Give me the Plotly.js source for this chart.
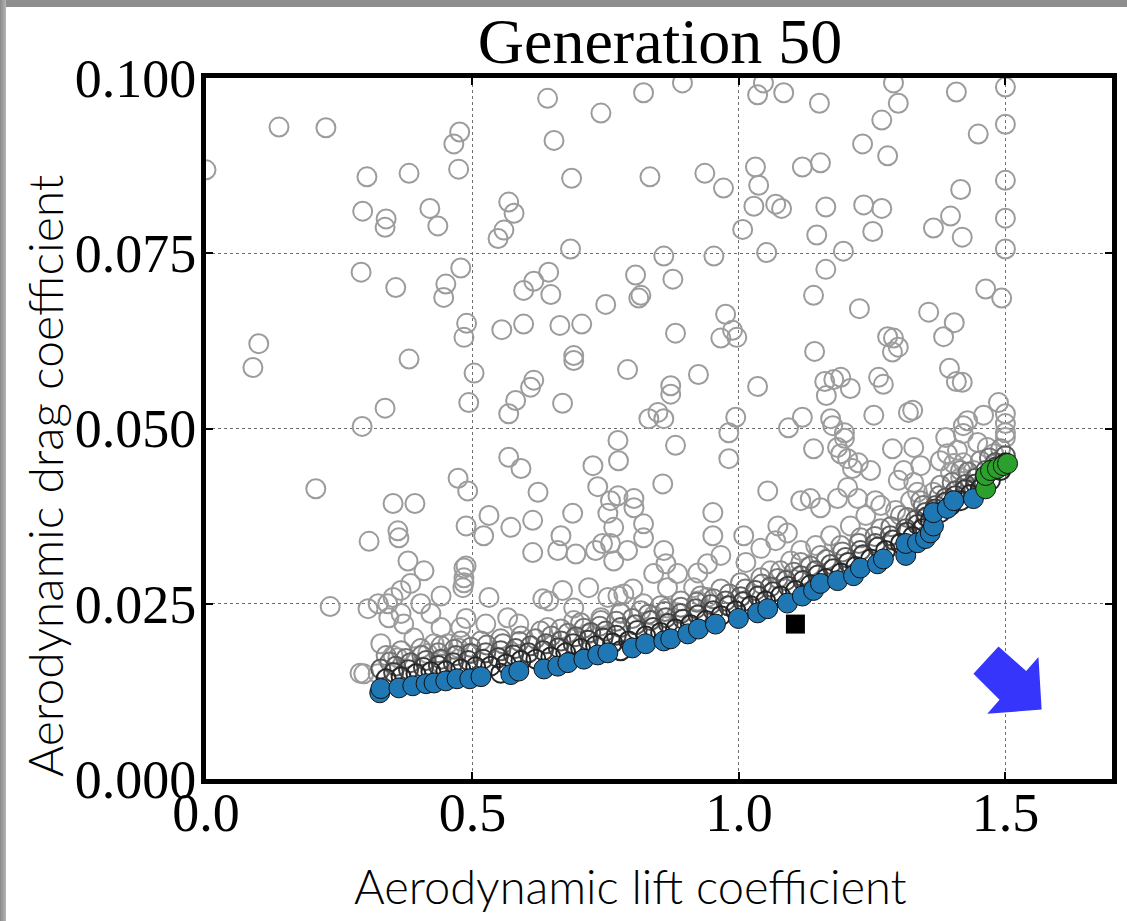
<!DOCTYPE html>
<html>
<head>
<meta charset="utf-8">
<script src="https://cdn.plot.ly/plotly-3.0.1.min.js"></script>
<style>
  html, body { margin: 0; padding: 0; background: #ffffff; }
  #wrap { position: relative; width: 1127px; height: 921px; overflow: hidden; }
  #plot { position: absolute; left: 0; top: 0; width: 1127px; height: 921px; }
  #topbar { position: absolute; left: 0; top: 0; width: 1127px; height: 7px; background: #8e8e8e; z-index: 5; }
  #leftbar { position: absolute; left: 0; top: 0; width: 6px; height: 921px; background: linear-gradient(to right, #8a8a8a, #b5b5b5); z-index: 5; }
</style>
</head>
<body>
<div id="wrap">
  <div id="plot"></div>
  <div id="topbar"></div>
  <div id="leftbar"></div>
</div>
<script>
// ---------- DATA: [lift coefficient, drag coefficient] ----------
const chartTitle = 'Generation 50';
const xTitle = 'Aerodynamic lift coefficient';
const yTitle = 'Aerodynamic drag coefficient';
const xTicks = [0, 0.5, 1.0, 1.5];
const yTicks = [0, 0.025, 0.05, 0.075, 0.1];

// earlier / dominated individuals (light grey open circles)
const populationPoints = [
  [0.0,0.0869],[0.137,0.0930],[0.225,0.0929],[0.302,0.0859],[0.381,0.0864],[0.476,0.0923],[0.465,0.0906],[0.474,0.0870],
  [0.294,0.0810],[0.338,0.0799],[0.336,0.0787],[0.420,0.0814],[0.435,0.0789],[0.641,0.0971],[0.653,0.0911],[0.741,0.0950],
  [0.686,0.0857],[0.568,0.0823],[0.578,0.0807],[0.559,0.0783],[0.548,0.0771],[0.684,0.0756],[0.291,0.0723],[0.356,0.0701],
  [0.450,0.0706],[0.446,0.0687],[0.478,0.0729],[0.643,0.0723],[0.615,0.0710],[0.596,0.0697],[0.647,0.0691],[0.750,0.0677],
  [0.489,0.0650],[0.484,0.0630],[0.555,0.0641],[0.596,0.0649],[0.664,0.0647],[0.705,0.0649],[0.690,0.0604],[0.099,0.0621],
  [0.088,0.0587],[0.381,0.0599],[0.503,0.0579],[0.821,0.0979],[0.894,0.0993],[1.046,0.0993],[1.035,0.0976],[1.084,0.0979],
  [1.151,0.0964],[1.290,0.0993],[1.299,0.0964],[1.268,0.0940],[1.232,0.0906],[1.279,0.0889],[1.408,0.0980],[1.449,0.0920],
  [1.500,0.0987],[1.500,0.0934],[1.500,0.0854],[1.500,0.0800],[1.500,0.0756],[1.416,0.0841],[1.397,0.0803],[1.365,0.0786],
  [1.419,0.0773],[0.833,0.0859],[0.936,0.0864],[0.971,0.0843],[1.031,0.0873],[1.037,0.0847],[1.028,0.0817],[1.069,0.0820],
  [1.080,0.0814],[1.007,0.0784],[1.052,0.0751],[1.119,0.0873],[1.153,0.0879],[1.163,0.0816],[1.234,0.0819],[1.268,0.0814],
  [1.251,0.0781],[1.146,0.0776],[1.196,0.0753],[1.163,0.0727],[1.140,0.0690],[1.226,0.0671],[1.356,0.0666],[1.404,0.0651],
  [1.384,0.0631],[1.463,0.0699],[1.493,0.0686],[0.859,0.0746],[0.953,0.0746],[0.806,0.0719],[0.876,0.0713],[0.816,0.0690],
  [0.812,0.0686],[0.975,0.0663],[0.988,0.0640],[0.966,0.0629],[0.996,0.0630],[0.881,0.0636],[0.791,0.0584],[0.872,0.0561],
  [0.872,0.0549],[0.924,0.0577],[1.035,0.0560],[1.142,0.0610],[1.161,0.0567],[1.178,0.0570],[1.191,0.0573],[1.209,0.0557],
  [1.164,0.0547],[1.279,0.0631],[1.290,0.0629],[1.299,0.0616],[1.288,0.0609],[1.262,0.0573],[1.271,0.0563],[1.395,0.0586],
  [1.408,0.0567],[1.419,0.0566],[1.487,0.0537],
  [0.336,0.0529],[0.293,0.0503],[0.206,0.0414],[0.351,0.0393],[0.392,0.0393],[0.360,0.0354],[0.362,0.0344],[0.306,0.0339],
  [0.473,0.0429],[0.491,0.0411],[0.488,0.0361],[0.379,0.0311],[0.409,0.0297],[0.384,0.0279],[0.366,0.0269],[0.351,0.0259],
  [0.233,0.0246],[0.304,0.0243],[0.323,0.0250],[0.341,0.0250],[0.343,0.0230],[0.366,0.0236],[0.371,0.0221],[0.390,0.0201],
  [0.403,0.0250],[0.422,0.0236],[0.441,0.0261],[0.482,0.0273],[0.484,0.0287],[0.484,0.0301],[0.328,0.0193],[0.351,0.0176],
  [0.360,0.0173],[0.289,0.0151],[0.296,0.0150],[0.441,0.0216],[0.478,0.0216],[0.428,0.0193],[0.416,0.0179],[0.454,0.0193],
  [0.473,0.0187],[0.491,0.0179],[0.441,0.0164],[0.323,0.0150],
  [0.493,0.0537],[0.568,0.0521],[0.581,0.0540],[0.609,0.0559],[0.615,0.0569],[0.669,0.0536],[0.690,0.0597],[0.831,0.0514],
  [0.848,0.0523],[0.859,0.0514],[0.773,0.0483],[0.881,0.0476],[0.568,0.0459],[0.591,0.0443],[0.726,0.0447],[0.774,0.0454],
  [0.623,0.0409],[0.735,0.0417],[0.857,0.0421],[0.773,0.0404],[0.759,0.0397],[0.803,0.0400],[0.803,0.0387],[0.754,0.0379],
  [0.821,0.0364],[0.688,0.0379],[0.613,0.0369],[0.572,0.0359],[0.531,0.0376],[0.521,0.0347],[0.666,0.0347],[0.765,0.0359],
  [0.744,0.0336],[0.759,0.0336],[0.791,0.0326],[0.821,0.0344],[0.694,0.0321],[0.660,0.0326],[0.613,0.0323],[0.731,0.0326],
  [0.765,0.0311],[0.859,0.0326],[0.863,0.0307],[0.840,0.0293],[0.885,0.0293],[0.923,0.0294],[0.951,0.0380],[0.951,0.0347],
  [0.866,0.0273],[0.915,0.0273],[0.488,0.0304],[0.484,0.0280],[0.531,0.0259],[0.632,0.0257],[0.643,0.0254],[0.669,0.0269],
  [0.718,0.0273],[0.690,0.0244],[0.754,0.0259],[0.773,0.0261],[0.784,0.0264],[0.801,0.0271],[0.821,0.0250],[0.840,0.0233],
  [0.866,0.0244],[0.885,0.0237],[0.923,0.0254],[0.941,0.0259],[0.488,0.0229],[0.525,0.0221],[0.566,0.0230],[0.587,0.0221],
  [0.641,0.0216],[0.690,0.0226],[0.741,0.0230],[0.778,0.0236],[0.716,0.0207],
  [0.994,0.0516],[0.981,0.0494],[0.981,0.0457],[1.093,0.0501],[1.119,0.0516],[1.172,0.0514],[1.176,0.0504],[1.198,0.0494],
  [1.198,0.0486],[1.253,0.0519],[1.318,0.0523],[1.326,0.0526],[1.140,0.0471],[1.185,0.0473],[1.191,0.0464],[1.204,0.0457],
  [1.213,0.0443],[1.224,0.0451],[1.247,0.0440],[1.054,0.0411],[1.009,0.0347],[1.073,0.0361],[1.091,0.0351],[1.069,0.0340],
  [1.041,0.0329],[1.116,0.0397],[1.134,0.0400],[1.153,0.0387],[1.185,0.0400],[1.204,0.0416],[1.223,0.0400],[1.256,0.0397],
  [1.288,0.0471],[1.328,0.0473],[1.309,0.0440],[1.341,0.0447],[1.299,0.0426],[1.328,0.0423],[1.335,0.0409],[1.365,0.0409],
  [1.388,0.0487],[1.410,0.0469],[1.429,0.0511],[1.421,0.0493],[1.421,0.0504],[1.459,0.0519],[1.500,0.0521],[1.500,0.0507],
  [1.500,0.0494],[1.500,0.0487],[1.448,0.0480],[1.466,0.0473],[1.478,0.0464],[1.391,0.0464],[1.378,0.0454],[1.403,0.0450],
  [1.421,0.0451],[1.397,0.0437],[1.416,0.0430],[1.440,0.0440],
  [0.941,0.0307],[0.966,0.0319],[1.013,0.0309],[1.059,0.0297],[1.097,0.0311],[1.116,0.0326],[1.144,0.0333],[1.172,0.0347],
  [1.209,0.0361],[1.238,0.0376],[1.266,0.0390],[1.294,0.0383],[1.322,0.0397]
];

// recent individuals crowding just above the front (progressively darker grey)
const recentOuter = [
  [0.338,0.0176],[0.366,0.0183],[0.403,0.0186],[0.441,0.0190],[0.478,0.0197],[0.516,0.0197],[0.553,0.0200],[0.591,0.0204],
  [0.628,0.0211],[0.666,0.0214],[0.703,0.0223],[0.741,0.0226],[0.778,0.0237],[0.816,0.0240],[0.853,0.0247],[0.891,0.0254],
  [0.928,0.0261],[0.966,0.0271],[1.003,0.0280],[1.041,0.0287],[1.078,0.0297],[1.116,0.0309],[1.153,0.0319],[1.191,0.0333],
  [1.228,0.0344],[1.266,0.0357],[1.303,0.0376],[1.341,0.0397],[1.378,0.0419],[1.416,0.0440],[1.453,0.0454],[1.491,0.0471]
];
const recentOuterMid = [
  [0.345,0.0167],[0.375,0.0172],[0.405,0.0176],[0.436,0.0180],[0.466,0.0185],[0.497,0.0188],[0.527,0.0191],[0.557,0.0193],
  [0.588,0.0196],[0.618,0.0200],[0.648,0.0204],[0.679,0.0208],[0.709,0.0215],[0.739,0.0218],[0.770,0.0225],[0.800,0.0229],
  [0.830,0.0235],[0.861,0.0239],[0.891,0.0245],[0.921,0.0252],[0.952,0.0257],[0.982,0.0264],[1.012,0.0271],[1.043,0.0278],
  [1.073,0.0286],[1.103,0.0295],[1.134,0.0304],[1.164,0.0313],[1.194,0.0324],[1.225,0.0336],[1.255,0.0346],[1.285,0.0360],
  [1.316,0.0373],[1.346,0.0390],[1.376,0.0404],[1.400,0.0423],[1.430,0.0438],[1.470,0.0458]
];
const recentMiddle = [
  [0.328,0.0157],[0.356,0.0161],[0.384,0.0166],[0.413,0.0169],[0.441,0.0171],[0.469,0.0176],[0.497,0.0179],[0.525,0.0180],
  [0.553,0.0183],[0.581,0.0186],[0.609,0.0190],[0.638,0.0193],[0.666,0.0197],[0.694,0.0203],[0.722,0.0209],[0.750,0.0211],
  [0.778,0.0216],[0.806,0.0220],[0.834,0.0226],[0.863,0.0230],[0.891,0.0236],[0.919,0.0243],[0.947,0.0249],[0.975,0.0254],
  [1.003,0.0260],[1.031,0.0269],[1.059,0.0274],[1.088,0.0283],[1.116,0.0290],[1.144,0.0297],[1.172,0.0306],[1.200,0.0316],
  [1.228,0.0326],[1.256,0.0336],[1.284,0.0347],[1.313,0.0357],[1.331,0.0369],[1.350,0.0380],[1.369,0.0390],[1.388,0.0401],
  [1.406,0.0411],[1.425,0.0420],[1.444,0.0429],[1.463,0.0440],[1.481,0.0451],[1.500,0.0461]
];
const recentMidInner = [
  [0.352,0.0152],[0.380,0.0156],[0.408,0.0159],[0.436,0.0162],[0.464,0.0166],[0.492,0.0169],[0.520,0.0171],[0.548,0.0173],
  [0.577,0.0177],[0.605,0.0180],[0.633,0.0183],[0.661,0.0187],[0.689,0.0193],[0.717,0.0198],[0.745,0.0201],[0.770,0.0205],
  [0.809,0.0212],[0.839,0.0216],[0.867,0.0222],[0.895,0.0228],[0.923,0.0234],[0.952,0.0240],[0.980,0.0247],[1.008,0.0253],
  [1.036,0.0261],[1.064,0.0267],[1.092,0.0275],[1.120,0.0283],[1.148,0.0291],[1.177,0.0300],[1.205,0.0309],[1.233,0.0320],
  [1.261,0.0331],[1.289,0.0341],[1.315,0.0352],[1.335,0.0363],[1.352,0.0374],[1.368,0.0385],[1.388,0.0395],[1.406,0.0404],
  [1.425,0.0413],[1.444,0.0421],[1.462,0.0432],[1.482,0.0445]
];
const recentInner = [
  [0.338,0.0143],[0.366,0.0146],[0.394,0.0150],[0.422,0.0153],[0.450,0.0154],[0.478,0.0157],[0.506,0.0160],[0.534,0.0161],
  [0.553,0.0151],[0.563,0.0164],[0.591,0.0169],[0.619,0.0171],[0.647,0.0174],[0.675,0.0180],[0.703,0.0186],[0.731,0.0190],
  [0.763,0.0194],[0.778,0.0183],[0.793,0.0197],[0.825,0.0204],[0.853,0.0209],[0.881,0.0214],[0.909,0.0220],[0.938,0.0226],
  [0.966,0.0233],[0.994,0.0240],[1.022,0.0247],[1.050,0.0254],[1.078,0.0261],[1.106,0.0269],[1.134,0.0277],[1.163,0.0286],
  [1.191,0.0294],[1.219,0.0303],[1.247,0.0314],[1.275,0.0326],[1.303,0.0336],[1.326,0.0346],[1.344,0.0357],[1.359,0.0369],
  [1.378,0.0380],[1.397,0.0390],[1.416,0.0397],[1.434,0.0406],[1.453,0.0414],[1.472,0.0426],[1.491,0.0440],[1.500,0.0451]
];

// current Pareto front (blue) and its constrained end (green)
const paretoFront = [
  [0.326,0.0123],[0.328,0.0129],[0.362,0.0130],[0.388,0.0133],[0.413,0.0136],[0.428,0.0137],[0.450,0.0140],[0.471,0.0143],
  [0.495,0.0143],[0.516,0.0146],[0.572,0.0149],[0.587,0.0154],[0.634,0.0157],[0.660,0.0161],[0.679,0.0166],[0.709,0.0171],
  [0.735,0.0177],[0.754,0.0180],[0.800,0.0187],[0.825,0.0193],[0.859,0.0197],[0.872,0.0200],[0.904,0.0207],[0.924,0.0214],
  [0.956,0.0221],[0.999,0.0229],[1.035,0.0237],[1.054,0.0243],[1.091,0.0251],[1.119,0.0261],[1.140,0.0269],[1.153,0.0279],
  [1.185,0.0283],[1.215,0.0290],[1.228,0.0301],[1.260,0.0307],[1.271,0.0314],[1.313,0.0319],[1.313,0.0336],[1.335,0.0337],
  [1.350,0.0343],[1.359,0.0351],[1.365,0.0361],[1.365,0.0380],[1.391,0.0386],[1.403,0.0397],[1.440,0.0400]
];
const frontEnd = [[1.463,0.0414],[1.463,0.0433],[1.472,0.0440],[1.485,0.0443],[1.496,0.0447],[1.504,0.0450]];
const referenceAirfoil = [[1.106,0.0221]];

// ---------- STYLE ----------
const serif = 'Liberation Serif, Times New Roman, serif';
const sans = 'Lato, Roboto, Open Sans, sans-serif';

function openTrace(pts, color) {
  return {
    type: 'scatter', mode: 'markers', hoverinfo: 'skip',
    x: pts.map(p => p[0]), y: pts.map(p => p[1]),
    marker: { symbol: 'circle-open', size: 19, color: color, line: { color: color, width: 2 } }
  };
}
function filledTrace(pts, fill, symbol) {
  return {
    type: 'scatter', mode: 'markers', hoverinfo: 'skip',
    x: pts.map(p => p[0]), y: pts.map(p => p[1]),
    marker: { symbol: symbol || 'circle', size: 20, color: fill, line: { color: '#111111', width: 1 } }
  };
}

const traces = [
  openTrace(populationPoints, '#9c9c9c'),
  openTrace(recentOuter, '#8c8c8c'),
  openTrace(recentOuterMid, '#767676'),
  openTrace(recentMiddle, '#5a5a5a'),
  openTrace(recentMidInner, '#3e3e3e'),
  openTrace(recentInner, '#262626'),
  filledTrace(paretoFront, '#1f77b4'),
  filledTrace(frontEnd, '#2ca02c'),
  { type: 'scatter', mode: 'markers', hoverinfo: 'skip',
    x: referenceAirfoil.map(p => p[0]), y: referenceAirfoil.map(p => p[1]),
    marker: { symbol: 'square', size: 19, color: '#000000' } }
];

const axisCommon = {
  showgrid: true, gridcolor: '#6f6f6f', gridwidth: 1, griddash: 'dot',
  zeroline: false, showline: true, linecolor: '#000000', linewidth: 5, mirror: 'ticks',
  ticks: 'inside', ticklen: 7, tickwidth: 2, tickcolor: '#000000',
  tickfont: { family: serif, size: 54, color: '#000000' }
};

const layout = {
  width: 1127, height: 921,
  margin: { l: 206, r: 15, t: 78, b: 142 },
  paper_bgcolor: '#ffffff', plot_bgcolor: '#ffffff',
  showlegend: false,
  title: { text: chartTitle, font: { family: serif, size: 64, color: '#000000' },
           x: 0.5856, xanchor: 'center', yref: 'container', y: 0.956, yanchor: 'middle' },
  xaxis: Object.assign({}, axisCommon, { range: [0, 1.7], tickvals: xTicks, tickformat: '.1f', ticklabelstandoff: -18 }),
  yaxis: Object.assign({}, axisCommon, { range: [0, 0.1], tickvals: yTicks, tickformat: '.3f', ticklabelstandoff: -6 }),
  annotations: [
    { text: xTitle, xref: 'paper', yref: 'paper', x: 0.468, y: -0.153, xanchor: 'center', yanchor: 'middle',
      showarrow: false, font: { family: sans, size: 47, color: '#000000', weight: 300 } },
    { text: yTitle, xref: 'paper', yref: 'paper', x: -0.179, y: 0.432, xanchor: 'center', yanchor: 'middle',
      textangle: -90, showarrow: false, font: { family: sans, size: 48, color: '#000000', weight: 300 } }
  ],
  shapes: [
    { type: 'path', xref: 'x', yref: 'y', layer: 'above',
      path: 'M 1.487 0.0189 L 1.539 0.0154 L 1.562 0.0174 L 1.568 0.0099 L 1.466 0.0093 L 1.489 0.0113 L 1.440 0.0150 Z',
      fillcolor: '#3535fb', line: { width: 0 } }
  ]
};

Plotly.newPlot('plot', traces, layout, { displayModeBar: false, staticPlot: true });
</script>
</body>
</html>
